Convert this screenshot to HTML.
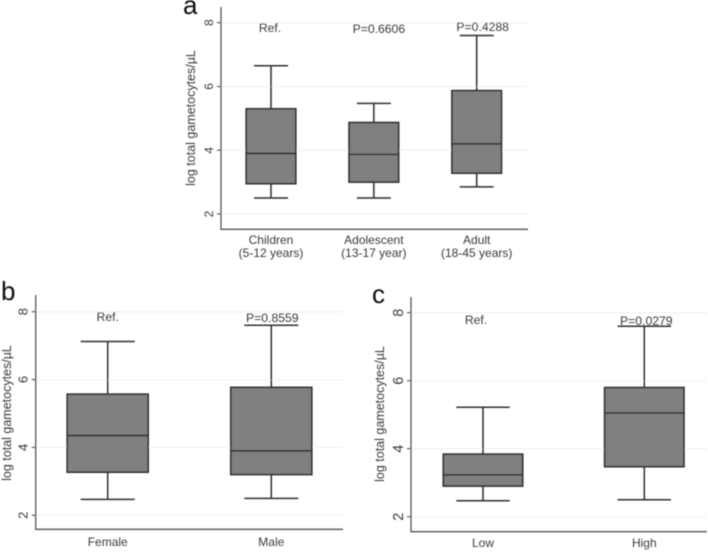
<!DOCTYPE html>
<html lang="en">
<head>
<meta charset="utf-8">
<title>Log total gametocytes by group</title>
<style>
html,body{margin:0;padding:0;background:#fff;width:708px;height:552px;overflow:hidden}
svg{display:block;font-family:"Liberation Sans",sans-serif}
</style>
</head>
<body>
<svg id="chart" xmlns="http://www.w3.org/2000/svg" width="708" height="552" viewBox="0 0 708 552">
<defs><filter id="soft" x="-5%" y="-5%" width="110%" height="110%"><feGaussianBlur stdDeviation="0.4"/></filter></defs>
<g id="root" filter="url(#soft)"></g>
</svg>
<script>
const yTicks = [2, 4, 6, 8];
const yTitle = "log total gametocytes/µL";

const categoriesA = [["Children", "(5-12 years)"], ["Adolescent", "(13-17 year)"], ["Adult", "(18-45 years)"]];
const whiskerHighA = [6.65, 5.47, 7.6];
const q3A = [5.3, 4.87, 5.87];
const medianA = [3.9, 3.87, 4.2];
const q1A = [2.95, 3.0, 3.28];
const whiskerLowA = [2.5, 2.5, 2.85];
const notesA = ["Ref.", "P=0.6606", "P=0.4288"];

const categoriesB = [["Female"], ["Male"]];
const whiskerHighB = [7.12, 7.6];
const q3B = [5.57, 5.77];
const medianB = [4.35, 3.9];
const q1B = [3.27, 3.2];
const whiskerLowB = [2.47, 2.5];
const notesB = ["Ref.", "P=0.8559"];

const categoriesC = [["Low"], ["High"]];
const whiskerHighC = [5.22, 7.6];
const q3C = [3.84, 5.8];
const medianC = [3.23, 5.05];
const q1C = [2.9, 3.47];
const whiskerLowC = [2.47, 2.5];
const notesC = ["Ref.", "P=0.0279"];

const NS = "http://www.w3.org/2000/svg";
const root = document.getElementById("root");
const GRID = "#eeeeee", AXIS = "#555555", LINE = "#2e2e2e", FILL = "#808080", TEXT = "#3a3a3a";

function add(parent, tag, attrs, text) {
  const el = document.createElementNS(NS, tag);
  for (const k in attrs) el.setAttribute(k, attrs[k]);
  if (text !== undefined) el.textContent = text;
  parent.appendChild(el);
  return el;
}

function drawPanel(p) {
  const g = add(root, "g", {});
  
  

  // axis functions: y is linear through value 2 and value 8, x places category centres
  const y = v => p.y2 + (v - 2) * (p.y8 - p.y2) / 6;
  const x = i => p.x0 + i * (p.x1 - p.x0) / (p.cats.length - 1);

  const letter = add(g, "text", {x: p.letterX, y: p.letterY, "font-size": 26, fill: "#111"}, p.id);
  
  

  yTicks.forEach(t => {
    const grid = add(g, "line", {x1: p.left, x2: p.right, y1: y(t), y2: y(t), stroke: GRID, "stroke-width": 1});
    
    
    const tick = add(g, "line", {x1: p.left - 4, x2: p.left, y1: y(t), y2: y(t), stroke: AXIS, "stroke-width": 1.1});
    
    
    const lab = add(g, "text", {transform: "translate(" + (p.left - 8) + "," + y(t) + ") rotate(-90)", "text-anchor": "middle", "font-size": p.tickSize, fill: TEXT}, t);
    
    
  });

  const axisPath = add(g, "path", {d: "M" + p.left + " " + p.top + "V" + p.bottom + "H" + p.right, fill: "none", stroke: AXIS, "stroke-width": 1.3});
  
  

  const title = add(g, "text", {transform: "translate(" + p.titleX + "," + p.titleY + ") rotate(-90)", "text-anchor": "middle", "font-size": 12.5, fill: TEXT}, yTitle);
  
  

  p.cats.forEach((cat, i) => {
    const c = x(i);
    const b = add(g, "g", {});
    
    
    const style = {stroke: LINE, "stroke-width": 1.5, fill: "none"};
    add(b, "path", Object.assign({d: "M" + c + " " + y(p.hi[i]) + "V" + y(p.q3[i]) + "M" + c + " " + y(p.q1[i]) + "V" + y(p.lo[i]) +
      "M" + (c - p.cap) + " " + y(p.hi[i]) + "H" + (c + p.cap) + "M" + (c - p.cap) + " " + y(p.lo[i]) + "H" + (c + p.cap)}, style));
    add(b, "rect", {x: c - p.half, y: y(p.q3[i]), width: 2 * p.half, height: y(p.q1[i]) - y(p.q3[i]), fill: FILL, stroke: LINE, "stroke-width": 1.6});
    add(b, "line", {x1: c - p.half, x2: c + p.half, y1: y(p.med[i]), y2: y(p.med[i]), stroke: LINE, "stroke-width": 1.6});

    cat.forEach((line, j) => {
      const lab = add(g, "text", {x: c, y: p.catY + j * 13, "text-anchor": "middle", "font-size": 12, fill: TEXT}, line);
      
      
    });

    const note = add(g, "text", {x: c + p.noteDx[i], y: p.noteY[i], "text-anchor": "middle", "font-size": 12.2, fill: TEXT}, p.notes[i]);
    
    
  });
}

drawPanel({id: "a", cats: categoriesA, hi: whiskerHighA, q3: q3A, med: medianA, q1: q1A, lo: whiskerLowA, notes: notesA,
  left: 221, right: 528, top: 7, bottom: 229.3, y2: 214, y8: 22.7, x0: 271, x1: 476.7, half: 24.8, cap: 17,
  letterX: 183, letterY: 14, tickSize: 12, titleX: 195, titleY: 118, catY: 244,
  noteDx: [-1, 5, 6], noteY: [32, 33, 31]});
drawPanel({id: "b", cats: categoriesB, hi: whiskerHighB, q3: q3B, med: medianB, q1: q1B, lo: whiskerLowB, notes: notesB,
  left: 35.7, right: 343, top: 295, bottom: 529.3, y2: 515.3, y8: 311.7, x0: 107.7, x1: 271.3, half: 40.5, cap: 27,
  letterX: 1, letterY: 300, tickSize: 13, titleX: 11, titleY: 413, catY: 546,
  noteDx: [0, 1], noteY: [321, 322]});
drawPanel({id: "c", cats: categoriesC, hi: whiskerHighC, q3: q3C, med: medianC, q1: q1C, lo: whiskerLowC, notes: notesC,
  left: 411, right: 706.7, top: 297, bottom: 531.7, y2: 516.7, y8: 312.7, x0: 483, x1: 644.3, half: 39.7, cap: 26.7,
  letterX: 372, letterY: 303, tickSize: 14.5, titleX: 384, titleY: 414, catY: 547,
  noteDx: [-7, 2], noteY: [324, 325]});
</script>
</body>
</html>
